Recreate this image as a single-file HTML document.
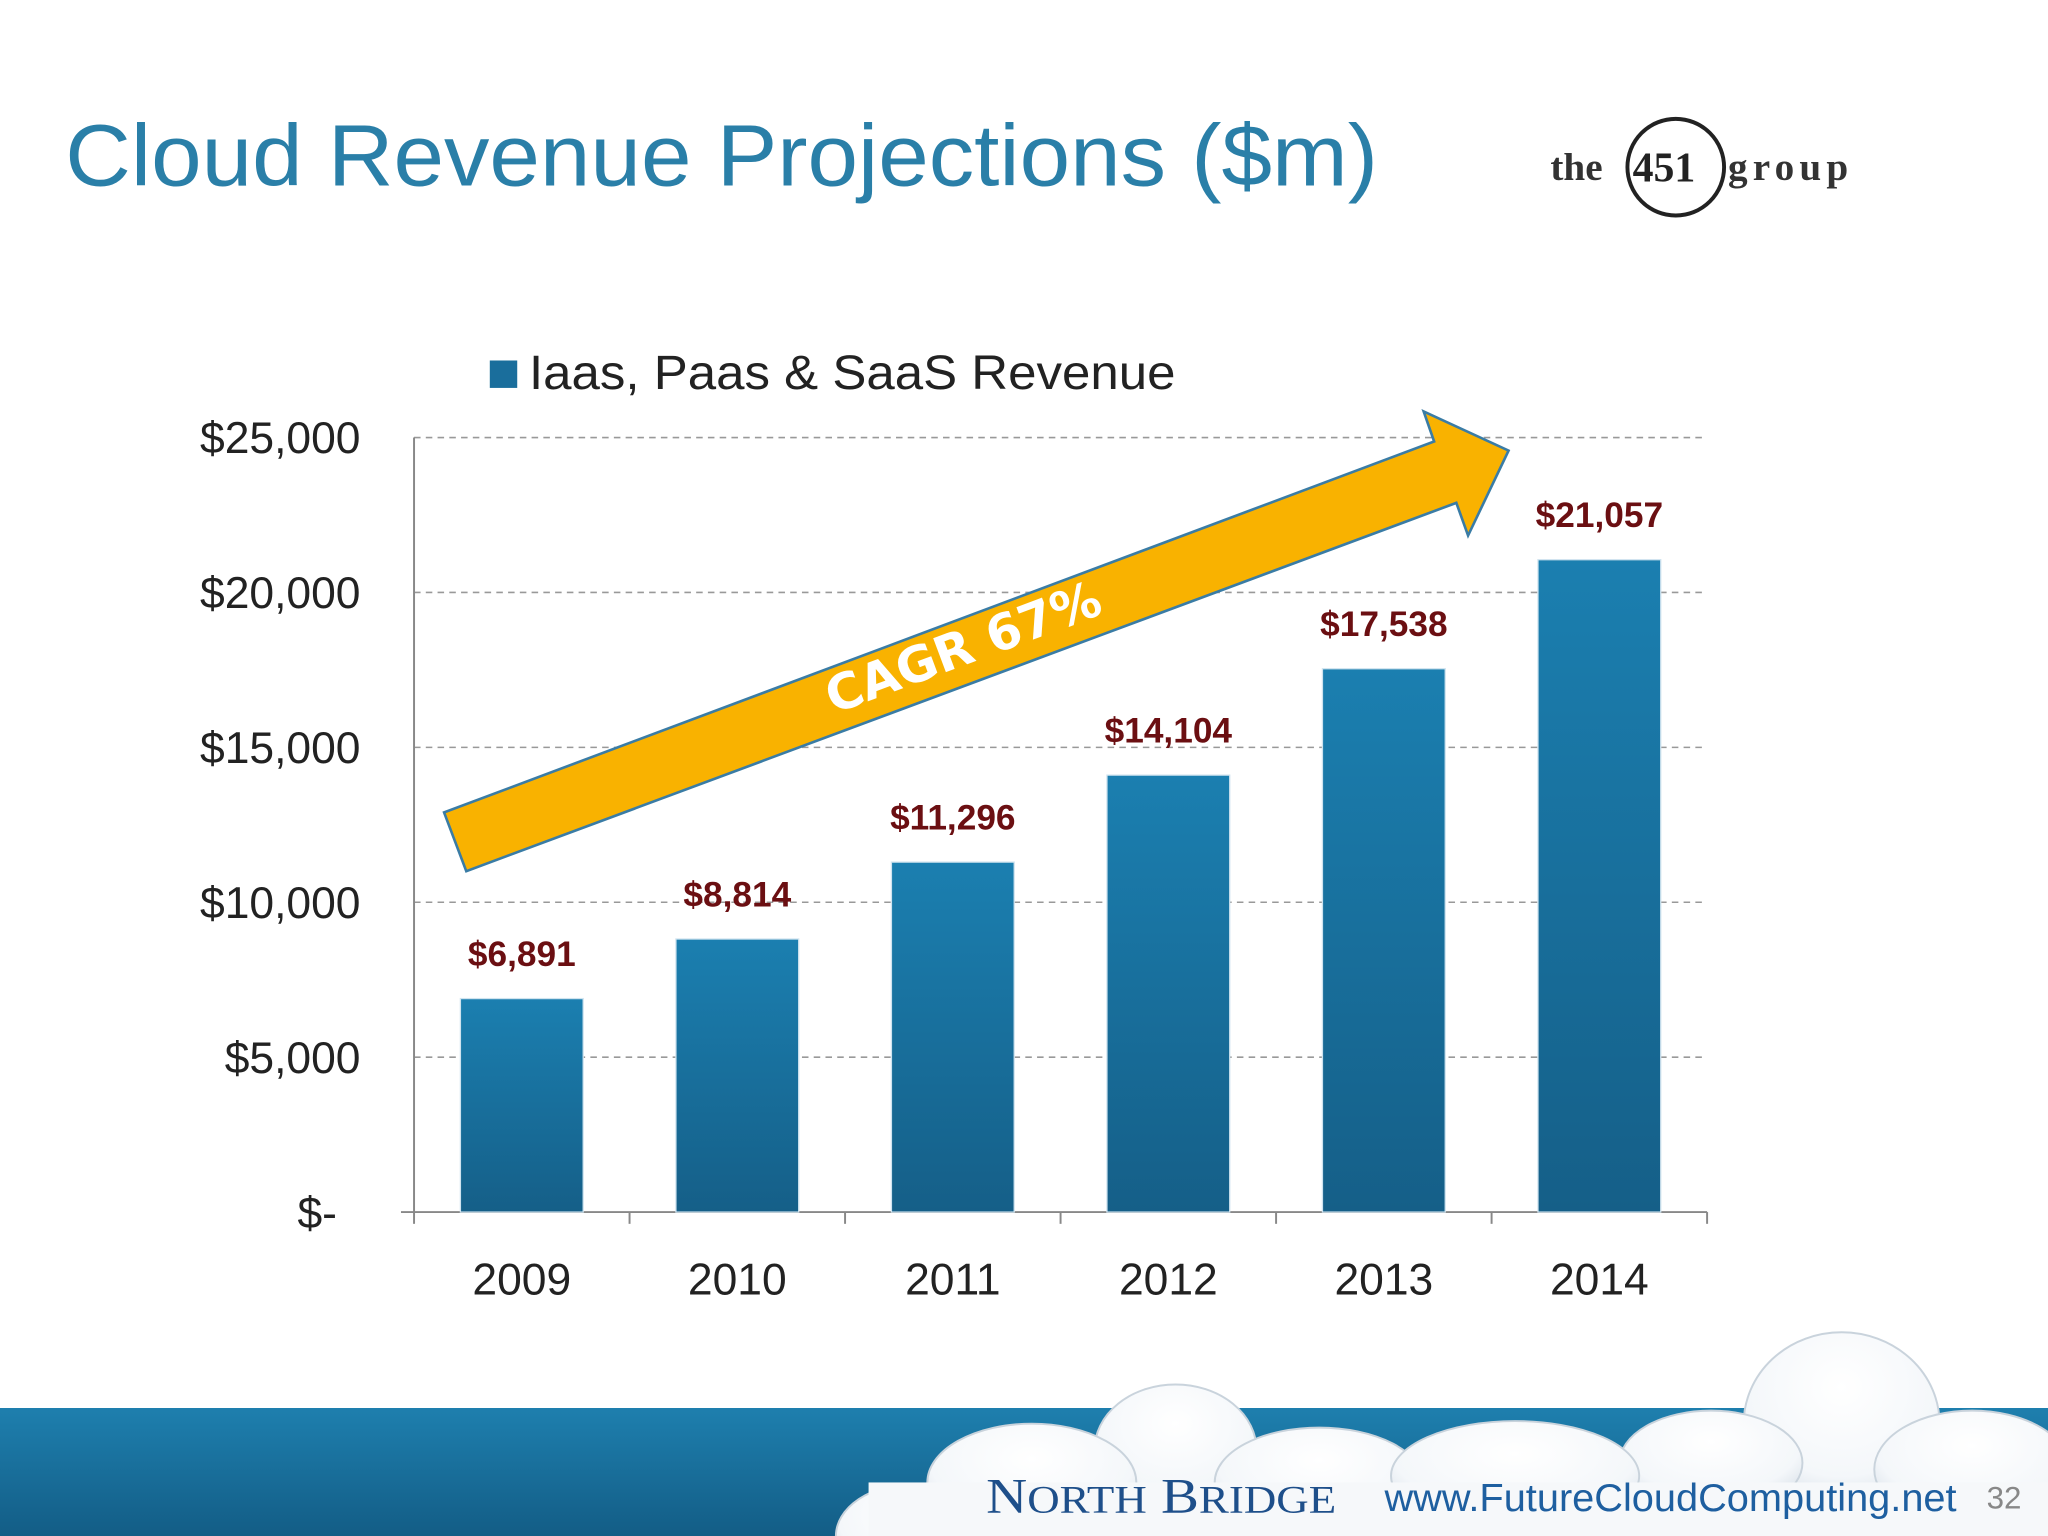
<!DOCTYPE html>
<html><head><meta charset="utf-8"><style>
html,body{margin:0;padding:0;background:#fff;}
svg{display:block;}
</style></head><body>
<svg width="2048" height="1536" viewBox="0 0 1568 1176" xmlns="http://www.w3.org/2000/svg">
<defs>
<linearGradient id="bar" x1="0" y1="0" x2="0" y2="1"><stop offset="0" stop-color="#1b7fb0"/><stop offset="1" stop-color="#155f88"/></linearGradient>
<linearGradient id="band" x1="0" y1="0" x2="0" y2="1"><stop offset="0" stop-color="#1e7fae"/><stop offset="1" stop-color="#135d86"/></linearGradient>
<radialGradient id="cloud" cx="0.5" cy="0.3" r="0.7"><stop offset="0" stop-color="#ffffff"/><stop offset="0.7" stop-color="#f4f7fa"/><stop offset="1" stop-color="#d4dde6"/></radialGradient>
</defs>
<text x="50" y="142" textLength="1005" lengthAdjust="spacingAndGlyphs" font-family="Liberation Sans, sans-serif" font-size="67" fill="#2a7fa8">Cloud Revenue Projections ($m)</text>
<g>
<text x="1187" y="138" font-family="Liberation Serif, serif" font-weight="bold" font-size="30" fill="#333">the</text>
<ellipse cx="1283" cy="128" rx="37" ry="37" fill="none" stroke="#222" stroke-width="3"/>
<text x="1250" y="139" font-family="Liberation Serif, serif" font-weight="bold" font-size="32" fill="#222">451</text>
<text x="1323" y="138" textLength="92" font-family="Liberation Serif, serif" font-weight="bold" font-size="30" fill="#333">group</text>
</g>
<g>
<rect x="375" y="276" width="21" height="21" fill="#1a6e9c"/>
<text x="405" y="298" textLength="495" lengthAdjust="spacingAndGlyphs" font-family="Liberation Sans, sans-serif" font-size="37" fill="#222">Iaas, Paas &amp; SaaS Revenue</text>
</g>
<g id="chart"></g>
<g>
<polygon points="357,667 340,622 1098,338 1090,315 1155,345 1124,410 1115,385" fill="#f9b200" stroke="#3a7ca5" stroke-width="2"/>
<text x="0" y="0" transform="translate(742,508) rotate(-20.5)" text-anchor="middle" font-family="DejaVu Sans, sans-serif" font-weight="bold" font-size="38" fill="#fff">CAGR 67%</text>
</g>
<g>
<rect x="0" y="1078" width="1568" height="98" fill="url(#band)"/>
<g fill="url(#cloud)" stroke="#c9d3dc" stroke-width="1.5">
<ellipse cx="1410" cy="1090" rx="75" ry="70"/>
<ellipse cx="1510" cy="1125" rx="75" ry="45"/>
<ellipse cx="900" cy="1110" rx="62" ry="50"/>
<ellipse cx="1310" cy="1120" rx="70" ry="40"/>
<ellipse cx="790" cy="1135" rx="80" ry="45"/>
<ellipse cx="700" cy="1176" rx="60" ry="40"/>
<ellipse cx="1010" cy="1135" rx="80" ry="42"/>
<ellipse cx="1160" cy="1130" rx="95" ry="42"/>
</g>
<rect x="665" y="1135" width="903" height="41" fill="#f6f8fa"/>
<text x="755" y="1158" textLength="268" lengthAdjust="spacingAndGlyphs" font-family="Liberation Serif, serif" font-size="38" fill="#1e4f8a">N<tspan font-size="30">ORTH</tspan> B<tspan font-size="30">RIDGE</tspan></text>
<text x="1060" y="1157" textLength="438" lengthAdjust="spacingAndGlyphs" font-family="Liberation Sans, sans-serif" font-size="30" fill="#1e5fa0">www.FutureCloudComputing.net</text>
<text x="1521" y="1155" font-family="Liberation Sans, sans-serif" font-size="24" fill="#888">32</text>
</g>
</svg>
<script>
const categories=["2009","2010","2011","2012","2013","2014"];
const values=[6891,8814,11296,14104,17538,21057];
const valueLabels=["$6,891","$8,814","$11,296","$14,104","$17,538","$21,057"];
const ticks=[0,5000,10000,15000,20000,25000];
const tickLabels=["$-","$5,000","$10,000","$15,000","$20,000","$25,000"];
const NS="http://www.w3.org/2000/svg";
const g=document.getElementById('chart');
const x0=317,x1=1307,yB=928,yT=335,maxV=25000;
const y=v=>yB-(v/maxV)*(yB-yT);
const band=(x1-x0)/categories.length;
const bx=i=>x0+band*(i+0.5);
function mk(t,a){const e=document.createElementNS(NS,t);for(const k in a)e.setAttribute(k,a[k]);g.appendChild(e);return e;}
ticks.forEach((t,i)=>{
 if(t>0){const l=mk('line',{x1:x0,x2:x1,y1:y(t),y2:y(t),stroke:'#999','stroke-width':1.2,'stroke-dasharray':'5,4'});
 
 }
 const tx=mk('text',{x:t===0?258:276,y:y(t)+12,'text-anchor':'end','font-family':'Liberation Sans, sans-serif','font-size':34,fill:'#222'});
 tx.textContent=tickLabels[i];
 
 
});
const ax=mk('line',{x1:x0,x2:x0,y1:yT,y2:yB,stroke:'#888','stroke-width':1.5});


const xa=mk('line',{x1:x0-10,x2:x1,y1:yB,y2:yB,stroke:'#888','stroke-width':1.5});


for(let i=0;i<=categories.length;i++){const tk=mk('line',{x1:x0+band*i,x2:x0+band*i,y1:yB,y2:yB+9,stroke:'#888','stroke-width':1.5});
 
 }
categories.forEach((c,i)=>{
 const w=94;
 const r=mk('rect',{x:bx(i)-w/2,y:y(values[i]),width:w,height:yB-y(values[i]),fill:'url(#bar)',stroke:'#cfe3ef','stroke-width':1});
 
 
 const v=mk('text',{x:bx(i),y:y(values[i])-25,'text-anchor':'middle','font-family':'Liberation Sans, sans-serif','font-weight':'bold','font-size':27,fill:'#6b0f12'});
 v.textContent=valueLabels[i];
 
 
 const t=mk('text',{x:bx(i),y:991,'text-anchor':'middle','font-family':'Liberation Sans, sans-serif','font-size':34,fill:'#222'});
 t.textContent=c;
 
 
});
</script>
</body></html>
